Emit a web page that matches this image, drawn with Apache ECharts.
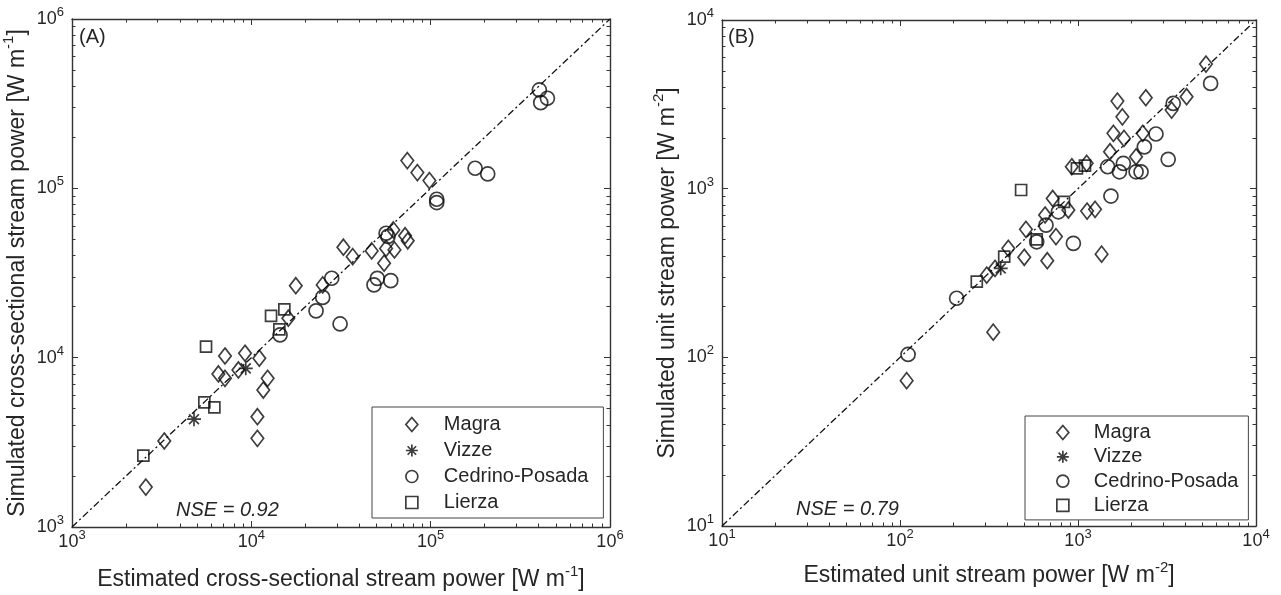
<!DOCTYPE html>
<html><head><meta charset="utf-8">
<script src="https://cdn.jsdelivr.net/npm/echarts@6/dist/echarts.min.js"></script>
<style>html,body{margin:0;padding:0;background:#fff}#c{width:1281px;height:595px}</style>
</head><body><div id="c"></div>
<script>
// ---------- data ----------
const seriesNames = ['Magra', 'Vizze', 'Cedrino-Posada', 'Lierza'];

// Panel A: cross-sectional stream power [W m-1]  (estimated, simulated)
const magraA = [[2580,1720],[3270,3220],[6550,8010],[7130,7550],[7130,10230],[8470,8460],[9220,10620],[11080,9920],[12330,7550],[11660,6440],[10810,4480],[10810,3340],[16080,17100],[17700,26600],[25000,26900],[32600,44900],[36750,39500],[46900,42700],[56400,44200],[55000,36100],[61900,56800],[62800,43300],[72000,52500],[74500,49000],[74100,145800],[84300,123900],[98400,111100]];
const vizzeA = [[4790,4330],[9310,8650]];
const cedrinoA = [[14460,13620],[22960,18900],[25000,22700],[28070,29440],[31250,15820],[48300,26900],[50400,29400],[59900,28500],[56400,54300],[57800,52000],[108100,86200],[108100,82400],[177000,131400],[208000,121600],[403700,381000],[447700,340500],[411000,320600]];
const lierzaA = [[2500,2640],[5470,5450],[6220,5090],[5590,11610],[12880,17630],[15280,19300],[14330,14710]];
const lineA = [[1e3,1e3],[1e6,1e6]];
const ticksA = [1e3, 1e4, 1e5, 1e6];
const nseA = 'NSE = 0.92';

// Panel B: unit stream power [W m-2]
const magraB = [[109,72.7],[334,141],[307,307],[342,337],[406,443],[499,392],[510,574],[672,374],[752,520],[653,698],[721,875],[883,747],[1125,736],[1247,754],[1357,409],[923,1349],[1119,1413],[1513,1656],[1581,2128],[1665,3304],[1775,2666],[1813,1985],[2120,1545],[2311,2128],[2404,3459],[3357,2924],[4074,3508],[5236,5480]];
const vizzeB = [[368,337]];
const cedrinoB = [[111,104],[208,224],[586,484],[661,608],[776,729],[942,474],[1531,904],[1468,1349],[1798,1413],[1709,1259],[2120,1259],[2260,1259],[2359,1770],[2742,2109],[3211,1492],[3428,3206],[5559,4207]];
const lierzaB = [[270,281],[385,395],[586,500],[479,982],[834,836],[986,1318],[1094,1368]];
const lineB = [[10,10],[1e4,1e4]];
const ticksB = [10, 100, 1000, 10000];
const nseB = 'NSE = 0.79';

// ---------- style ----------
const FONT = '"Liberation Sans", Arial, Helvetica, sans-serif';
const INK = '#262626';
const FRAME = '#333333';
const MK = '#0d0d0d';

function minorLogs(ticks) {
  const out = [];
  for (let i = 0; i < ticks.length - 1; i++) {
    for (let k = 2; k <= 9; k++) out.push(Math.log10(ticks[i] * k));
  }
  return out;
}
function powLabel(v) { return '{b|10}{s|' + Math.round(Math.log10(v)) + '}'; }
const tickRich = {
  b: {fontSize: 18, fontFamily: FONT, color: INK, lineHeight: 18},
  s: {fontSize: 13, fontFamily: FONT, color: INK, lineHeight: 13, padding: [0, 0, 13, 0]}
};
const titleRich = {
  s: {fontSize: 15, fontFamily: FONT, color: INK, lineHeight: 15, padding: [0, 0, 16, 0]}
};

function mainAxis(dim, grid, ticks, pos, name, gap) {
  const labelled = (pos === 'bottom' || pos === 'left');
  return {
    type: 'log', logBase: 10, gridIndex: grid,
    min: ticks[0], max: ticks[ticks.length - 1], position: pos,
    axisLine: {show: true, onZero: false, lineStyle: {color: FRAME, width: 1.4}},
    axisTick: {show: true, inside: true, length: 6, lineStyle: {color: FRAME, width: 1}},
    axisLabel: {show: labelled, margin: dim === 'x' ? 6 : 8, formatter: powLabel, rich: tickRich,
      fontSize: 18, fontFamily: FONT, color: INK},
    splitLine: {show: false}, minorTick: {show: false}, minorSplitLine: {show: false},
    name: labelled ? name : '', nameLocation: 'middle', nameGap: gap,
    nameTextStyle: {fontSize: 23, fontFamily: FONT, color: INK, lineHeight: 23, rich: titleRich}
  };
}
function minorAxis(grid, ticks, pos) {
  return {
    type: 'value', gridIndex: grid, position: pos,
    min: Math.log10(ticks[0]), max: Math.log10(ticks[ticks.length - 1]),
    axisLine: {show: false, onZero: false},
    axisLabel: {show: false}, splitLine: {show: false},
    axisTick: {show: true, inside: true, length: 3.5, customValues: minorLogs(ticks),
      lineStyle: {color: FRAME, width: 1}}
  };
}

const gridA = {left: 72, top: 19, width: 538, height: 508, containLabel: false, outerBoundsMode: 'none'};
const gridB = {left: 722, top: 20, width: 534, height: 506, containLabel: false, outerBoundsMode: 'none'};

const xAxes = [
  mainAxis('x', 0, ticksA, 'bottom', 'Estimated cross-sectional stream power [W m{s|-1}]', 41),
  mainAxis('x', 0, ticksA, 'top', '', 0),
  minorAxis(1, ticksA, 'bottom'), minorAxis(1, ticksA, 'top'),
  mainAxis('x', 2, ticksB, 'bottom', 'Estimated unit stream power [W m{s|-2}]', 38),
  mainAxis('x', 2, ticksB, 'top', '', 0),
  minorAxis(3, ticksB, 'bottom'), minorAxis(3, ticksB, 'top')
];
const yAxes = [
  mainAxis('y', 0, ticksA, 'left', 'Simulated cross-sectional stream power [W m{s|-1}]', 30),
  mainAxis('y', 0, ticksA, 'right', '', 0),
  minorAxis(1, ticksA, 'left'), minorAxis(1, ticksA, 'right'),
  mainAxis('y', 2, ticksB, 'left', 'Simulated unit stream power [W m{s|-2}]', 30),
  mainAxis('y', 2, ticksB, 'right', '', 0),
  minorAxis(3, ticksB, 'left'), minorAxis(3, ticksB, 'right')
];

const ASTER = 'path://M0,-10L0,10M-10,0L10,0M-7.07,-7.07L7.07,7.07M-7.07,7.07L7.07,-7.07';
const SQUARE = 'path://M0,0L10,0L10,10L0,10Z';
const markerStyle = {color: 'rgba(0,0,0,0)', borderColor: MK, borderWidth: 1.7};
const symbols = {
  'Magra': {symbol: 'diamond', symbolSize: [12.5, 16]},
  'Vizze': {symbol: ASTER, symbolSize: 14},
  'Cedrino-Posada': {symbol: 'circle', symbolSize: 14},
  'Lierza': {symbol: 'rect', symbolSize: 11}
};

function scatter(name, data, ax) {
  return Object.assign({
    type: 'scatter', name: name, data: data, xAxisIndex: ax, yAxisIndex: ax,
    itemStyle: markerStyle, z: 3, silent: true
  }, symbols[name]);
}
function diag(data, ax) {
  return {type: 'line', name: '1:1', data: data, xAxisIndex: ax, yAxisIndex: ax,
    symbol: 'none', silent: true, z: 2,
    lineStyle: {color: '#111', width: 1.3, type: [7, 3, 2, 3]}};
}

function legendAt(left, top, itemGap, pad, gapW) {
  return {
    orient: 'vertical', left: left, top: top, itemGap: itemGap, padding: pad,
    itemWidth: 12, itemHeight: 14, selectedMode: false,
    borderColor: '#444', borderWidth: 1, backgroundColor: '#fff',
    itemStyle: {color: 'rgba(0,0,0,0)', borderColor: MK, borderWidth: 1.7},
    data: [
      {name: 'Magra'}, {name: 'Vizze', icon: ASTER},
      {name: 'Cedrino-Posada'}, {name: 'Lierza', icon: SQUARE}
    ],
    formatter: n => '{g|}' + n,
    textStyle: {fontSize: 20, fontFamily: FONT, color: INK, lineHeight: 19,
      rich: {g: {width: gapW, lineHeight: 19}}}
  };
}

const option = {
  animation: false,
  backgroundColor: '#fff',
  grid: [Object.assign({}, gridA), Object.assign({}, gridA), Object.assign({}, gridB), Object.assign({}, gridB)],
  xAxis: xAxes,
  yAxis: yAxes,
  legend: [
    legendAt(372, 407, 6, [7.5, 15, 5.5, 33], 21),
    legendAt(1025, 416, 4.3, [6.5, 10, 4.5, 31], 20)
  ],
  graphic: [
    {type: 'text', left: 79, top: 27, style: {text: '(A)', font: '20px ' + FONT, fill: INK}},
    {type: 'text', left: 728, top: 27, style: {text: '(B)', font: '20px ' + FONT, fill: INK}},
    {type: 'text', left: 176, top: 500, style: {text: nseA, font: 'italic 20px ' + FONT, fill: INK}},
    {type: 'text', left: 796, top: 499, style: {text: nseB, font: 'italic 20px ' + FONT, fill: INK}}
  ],
  series: [
    diag(lineA, 0),
    scatter('Magra', magraA, 0), scatter('Vizze', vizzeA, 0),
    scatter('Cedrino-Posada', cedrinoA, 0), scatter('Lierza', lierzaA, 0),
    diag(lineB, 4),
    scatter('Magra', magraB, 4), scatter('Vizze', vizzeB, 4),
    scatter('Cedrino-Posada', cedrinoB, 4), scatter('Lierza', lierzaB, 4)
  ]
};

const chart = echarts.init(document.getElementById('c'), null, {renderer: 'canvas'});
chart.setOption(option);
</script>
</body></html>
